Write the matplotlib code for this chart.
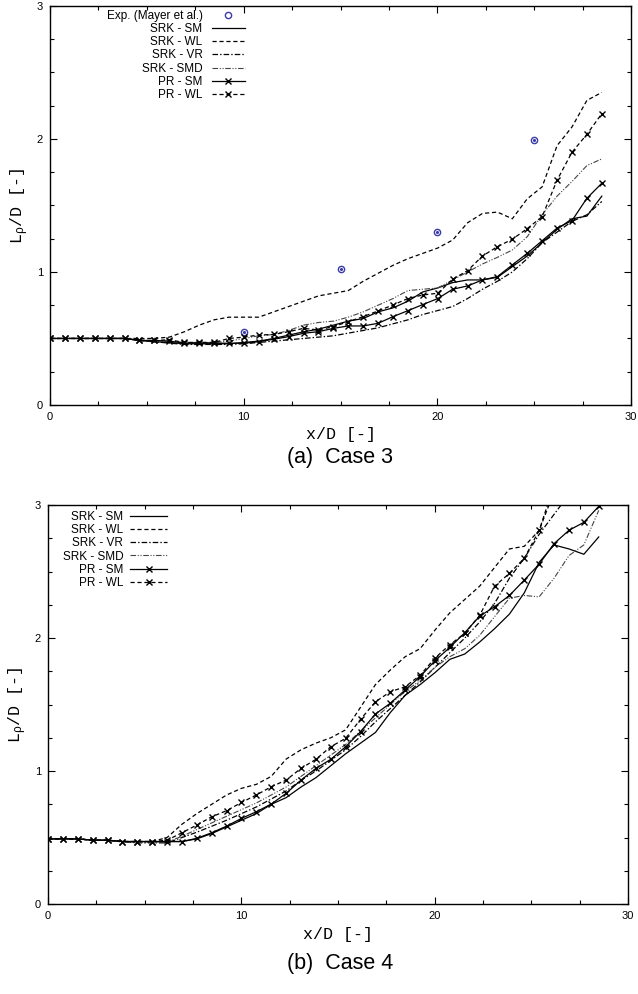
import matplotlib

matplotlib.use("Agg")
import matplotlib.pyplot as plt  # noqa: E402
from matplotlib.ticker import MultipleLocator  # noqa: E402

# axial stations (x/D) shared by all curves
x_d = [0.0, 0.77, 1.54, 2.31, 3.08, 3.85, 4.62, 5.39, 6.16, 6.93, 7.70, 8.47,
       9.24, 10.01, 10.78, 11.55, 12.32, 13.09, 13.86, 14.63, 15.40, 16.17,
       16.94, 17.71, 18.48, 19.25, 20.02, 20.79, 21.56, 22.33, 23.10, 23.87,
       24.64, 25.41, 26.18, 26.95, 27.72, 28.49]

# experiment, case 3
exp_x = [10, 15, 20, 25]
exp_y = [0.55, 1.02, 1.30, 1.99]

# case 3
c3_srk_sm = [0.50, 0.50, 0.50, 0.50, 0.50, 0.50, 0.485, 0.475, 0.47, 0.46, 0.46, 0.46,
             0.46, 0.47, 0.48, 0.50, 0.525, 0.55, 0.57, 0.60, 0.63, 0.65,
             0.70, 0.73, 0.78, 0.85, 0.88, 0.92, 0.94, 0.94, 0.96, 1.04,
             1.12, 1.22, 1.32, 1.40, 1.42, 1.57]
c3_srk_wl = [0.50, 0.50, 0.50, 0.50, 0.50, 0.50, 0.50, 0.50, 0.51, 0.55, 0.60, 0.64,
             0.66, 0.66, 0.66, 0.70, 0.74, 0.78, 0.82, 0.84, 0.86, 0.93,
             0.99, 1.05, 1.10, 1.14, 1.18, 1.24, 1.37, 1.44, 1.45, 1.40,
             1.55, 1.64, 1.95, 2.09, 2.29, 2.35]
c3_srk_vr = [0.50, 0.50, 0.50, 0.50, 0.50, 0.50, 0.485, 0.475, 0.465, 0.455, 0.455, 0.455,
             0.455, 0.46, 0.47, 0.48, 0.49, 0.50, 0.51, 0.52, 0.54, 0.56,
             0.58, 0.61, 0.64, 0.68, 0.71, 0.74, 0.80, 0.87, 0.93, 1.00,
             1.10, 1.22, 1.30, 1.38, 1.43, 1.53]
c3_srk_smd = [0.50, 0.50, 0.50, 0.50, 0.50, 0.50, 0.49, 0.48, 0.48, 0.47, 0.47, 0.47,
              0.48, 0.50, 0.52, 0.53, 0.56, 0.60, 0.62, 0.63, 0.66, 0.70,
              0.75, 0.80, 0.86, 0.87, 0.88, 0.94, 1.00, 1.06, 1.11, 1.165,
              1.265, 1.43, 1.57, 1.68, 1.80, 1.85]
c3_pr_sm = [0.50, 0.50, 0.50, 0.50, 0.50, 0.50, 0.485, 0.485, 0.48, 0.465, 0.465, 0.465,
            0.464, 0.464, 0.476, 0.494, 0.514, 0.539, 0.551, 0.576, 0.594, 0.594,
            0.614, 0.664, 0.709, 0.755, 0.80, 0.87, 0.895, 0.94, 0.965, 1.053,
            1.14, 1.235, 1.33, 1.386, 1.554, 1.667]
c3_pr_wl = [0.50, 0.50, 0.50, 0.50, 0.50, 0.50, 0.485, 0.485, 0.49, 0.47, 0.47, 0.47,
            0.50, 0.51, 0.526, 0.53, 0.551, 0.576, 0.564, 0.589, 0.626, 0.664,
            0.707, 0.752, 0.80, 0.827, 0.84, 0.945, 1.01, 1.12, 1.19, 1.246,
            1.326, 1.416, 1.69, 1.90, 2.035, 2.19]

# case 4 (some curves leave the plot at the top)
c4_srk_sm = [0.49, 0.49, 0.49, 0.48, 0.48, 0.47, 0.47, 0.47, 0.47, 0.47, 0.49, 0.53,
             0.58, 0.63, 0.68, 0.75, 0.80, 0.88, 0.95, 1.04, 1.13, 1.21,
             1.29, 1.44, 1.57, 1.65, 1.74, 1.84, 1.88, 1.97, 2.07, 2.18,
             2.34, 2.57, 2.70, 2.67, 2.63, 2.76]
c4_srk_wl = [0.49, 0.49, 0.49, 0.48, 0.48, 0.47, 0.47, 0.47, 0.50, 0.60, 0.68, 0.75,
             0.82, 0.87, 0.90, 0.96, 1.09, 1.16, 1.21, 1.25, 1.31, 1.48,
             1.65, 1.76, 1.86, 1.92, 2.06, 2.19, 2.29, 2.39, 2.53, 2.67,
             2.69, 2.81, 3.15]
c4_srk_vr = [0.49, 0.49, 0.49, 0.48, 0.48, 0.47, 0.46, 0.46, 0.46, 0.50, 0.54, 0.585,
             0.63, 0.68, 0.73, 0.79, 0.85, 0.93, 1.00, 1.08, 1.16, 1.26,
             1.37, 1.47, 1.57, 1.67, 1.78, 1.89, 2.00, 2.12, 2.26, 2.45,
             2.60, 2.78, 2.93, 3.08]
c4_srk_smd = [0.49, 0.49, 0.49, 0.48, 0.48, 0.465, 0.465, 0.465, 0.465, 0.51, 0.56, 0.61,
              0.66, 0.71, 0.76, 0.82, 0.88, 0.96, 1.04, 1.12, 1.20, 1.30,
              1.40, 1.50, 1.60, 1.68, 1.78, 1.86, 1.92, 2.02, 2.16, 2.30,
              2.32, 2.31, 2.45, 2.62, 2.70, 2.96]
c4_pr_sm = [0.49, 0.49, 0.49, 0.48, 0.48, 0.47, 0.47, 0.47, 0.47, 0.47, 0.494, 0.536,
            0.586, 0.644, 0.694, 0.752, 0.832, 0.932, 1.02, 1.088, 1.183, 1.296,
            1.429, 1.51, 1.61, 1.71, 1.83, 1.93, 2.04, 2.165, 2.235, 2.32,
            2.436, 2.556, 2.71, 2.81, 2.87, 2.99]
c4_pr_wl = [0.49, 0.49, 0.49, 0.48, 0.48, 0.47, 0.47, 0.47, 0.48, 0.536, 0.594, 0.656,
            0.702, 0.764, 0.82, 0.882, 0.932, 1.02, 1.088, 1.183, 1.246, 1.389,
            1.521, 1.596, 1.634, 1.72, 1.85, 1.95, 2.035, 2.17, 2.39, 2.486,
            2.60, 2.81, 3.10]

labels = ["SRK - SM", "SRK - WL", "SRK - VR", "SRK - SMD", "PR - SM", "PR - WL"]

plt.rcParams["font.family"] = ["Liberation Sans", "DejaVu Sans"]
plt.rcParams["mathtext.default"] = "regular"
plt.rcParams["lines.scale_dashes"] = False

STYLES = {
    "SRK - SM": dict(color="black", lw=0.9, ls="-"),
    "SRK - WL": dict(color="black", lw=0.9, dashes=(3, 2)),
    "SRK - VR": dict(color="black", lw=0.9, dashes=(4, 1.5, 1, 1.5)),
    "SRK - SMD": dict(color="#444444", lw=0.8, dashes=(4, 1.2, 0.8, 1.2, 0.8, 1.2)),
    "PR - SM": dict(color="black", lw=0.9, ls="-", marker="x", ms=4.5, mew=1.0),
    "PR - WL": dict(color="black", lw=0.9, dashes=(3, 2), marker="x", ms=4.5, mew=1.0),
}


def setup_axes(ax):
    ax.set_xlim(0, 30)
    ax.set_ylim(0, 3)
    ax.xaxis.set_major_locator(MultipleLocator(10))
    ax.xaxis.set_minor_locator(MultipleLocator(2.5))
    ax.yaxis.set_major_locator(MultipleLocator(1))
    ax.yaxis.set_minor_locator(MultipleLocator(0.25))
    ax.tick_params(which="both", direction="in", top=True, right=True,
                   labelsize=8, width=0.8)
    ax.tick_params(which="major", length=5, pad=5)
    ax.tick_params(which="minor", length=3)
    for sp in ax.spines.values():
        sp.set_linewidth(1.0)
    ax.set_xlabel("x/D [-]", family="Liberation Mono", fontsize=12, labelpad=4)
    ax.set_ylabel("L$_\\rho$/D [-]", family="Liberation Mono", fontsize=12, labelpad=4)


def draw_case(ax, series):
    for name, y in zip(labels, series):
        ax.plot(x_d[:len(y)], y, label=name, **STYLES[name])


fig = plt.figure(figsize=(6.38, 9.94), dpi=100)
ax_a = fig.add_axes([0.0784, 0.5926, 0.9107, 0.4014])
ax_b = fig.add_axes([0.0752, 0.0905, 0.9090, 0.4014])

ax_a.plot(exp_x, exp_y, ls="none", marker="o", ms=4.5, mfc="none", mew=1.0,
          color="#3a3aa8", label="Exp. (Mayer et al.)")
ax_a.plot(exp_x, exp_y, ls="none", marker="o", ms=1.2, color="#3a3aa8")
draw_case(ax_a, [c3_srk_sm, c3_srk_wl, c3_srk_vr, c3_srk_smd, c3_pr_sm, c3_pr_wl])
draw_case(ax_b, [c4_srk_sm, c4_srk_wl, c4_srk_vr, c4_srk_smd, c4_pr_sm, c4_pr_wl])

for ax in (ax_a, ax_b):
    setup_axes(ax)

ax_a.legend(loc="upper right", bbox_to_anchor=(0.3356, 0.99), frameon=False,
            markerfirst=False, fontsize=8.5, labelspacing=0.1, handlelength=2.8,
            handletextpad=0.8, borderpad=0, borderaxespad=0)
ax_b.legend(loc="upper right", bbox_to_anchor=(0.205, 0.985), frameon=False,
            markerfirst=False, fontsize=8.5, labelspacing=0.1, handlelength=3.1,
            handletextpad=0.6, borderpad=0, borderaxespad=0)

fig.text(340 / 638, 1 - 458 / 994, "(a)  Case 3", ha="center", va="center", fontsize=15.5)
fig.text(340 / 638, 1 - 964 / 994, "(b)  Case 4", ha="center", va="center", fontsize=15.5)

fig.savefig("out.png", dpi=100)
